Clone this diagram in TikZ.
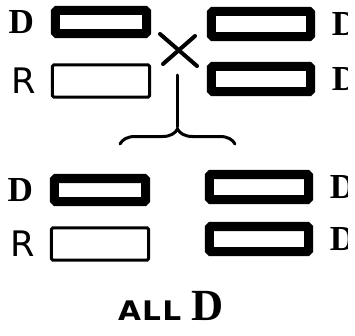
\documentclass[tikz,border=0pt]{standalone}
\usepackage{fontspec}
\setmainfont{Liberation Serif}
\newfontfamily\capfont{DejaVu Sans}
\usetikzlibrary{positioning,decorations.pathreplacing}

\begin{document}
\begin{tikzpicture}[
      x=0.03cm, y=-0.03cm,
      bar/.style={draw=black, fill=white, rounded corners=1pt, inner sep=0pt},
      dombar/.style={bar, line width=0.27cm, minimum width=2.73cm, minimum height=0.69cm},
      dombarwide/.style={dombar, minimum width=2.97cm, minimum height=0.75cm},
      recbar/.style={bar, line width=0.09cm, minimum width=2.91cm, minimum height=0.96cm},
      allele/.style={font=\bfseries\fontsize{30}{30}\selectfont, inner sep=0pt},
      recallele/.style={font=\capfont\fontsize{30}{30}\selectfont, inner sep=0pt},
      cross/.style={line width=0.12cm, line cap=round},
      stem/.style={line width=0.09cm, line cap=round}
    ]
    \useasboundingbox (0,0) rectangle (355,336);

    % parents
    \node[dombar]     (p1d) at (101,22) {};
    \node[recbar]     (p1r) at (101,81) {};
    \node[dombarwide] (p2a) at (261,24) {};
    \node[dombarwide] (p2b) at (261,79) {};
    \node[allele, left=0.5cm of p1d] (lp1d) {D};
    \node[recallele, left=0.45cm of p1r] (lp1r) {R};

    % offspring
    \node[dombar]     (f1d) at (100,190) {};
    \node[recbar]     (f1r) at (100,244) {};
    \node[dombarwide] (f2a) at (259,187) {};
    \node[dombarwide] (f2b) at (259,239) {};
    \node[allele, left=0.5cm of f1d] (lf1d) {D};
    \node[recallele, left=0.45cm of f1r] (lf1r) {R};

    % right labels, cut at the edge
    \begin{scope}
      \clip (300,0) rectangle (347,336);
      \node[allele, right=0.5cm of p2a] (lp2a) {D};
      \node[allele, right=0.5cm of p2b] (lp2b) {D};
      \node[allele, right=0.5cm of f2a] (lf2a) {D};
      \node[allele, right=0.5cm of f2b] (lf2b) {D};
    \end{scope}

    % cross and brace
    \coordinate (xa) at (160,34);
    \coordinate (xb) at (197,66);
    \coordinate (xc) at (195,36);
    \coordinate (xd) at (163,64);
    \draw[cross] (xa) -- (xb);
    \draw[cross] (xc) -- (xd);
    \coordinate (top) at (177,75);
    \coordinate (tip) at (177,127);
    \draw[stem] (top) -- (tip);
    \coordinate (bl) at (120,144);
    \coordinate (br) at (235,144);
    \draw[stem, decorate, decoration={brace, amplitude=0.45cm}] (bl) -- (br);

    \node[anchor=base, inner sep=0pt] (all) at (171,320)
      {\scalebox{1.1}[1]{\capfont\bfseries\fontsize{23}{23}\selectfont A\kern1pt L\kern1pt L}\hspace{9pt}{\bfseries\fontsize{38}{38}\selectfont D}};
  \end{tikzpicture}
\end{document}
